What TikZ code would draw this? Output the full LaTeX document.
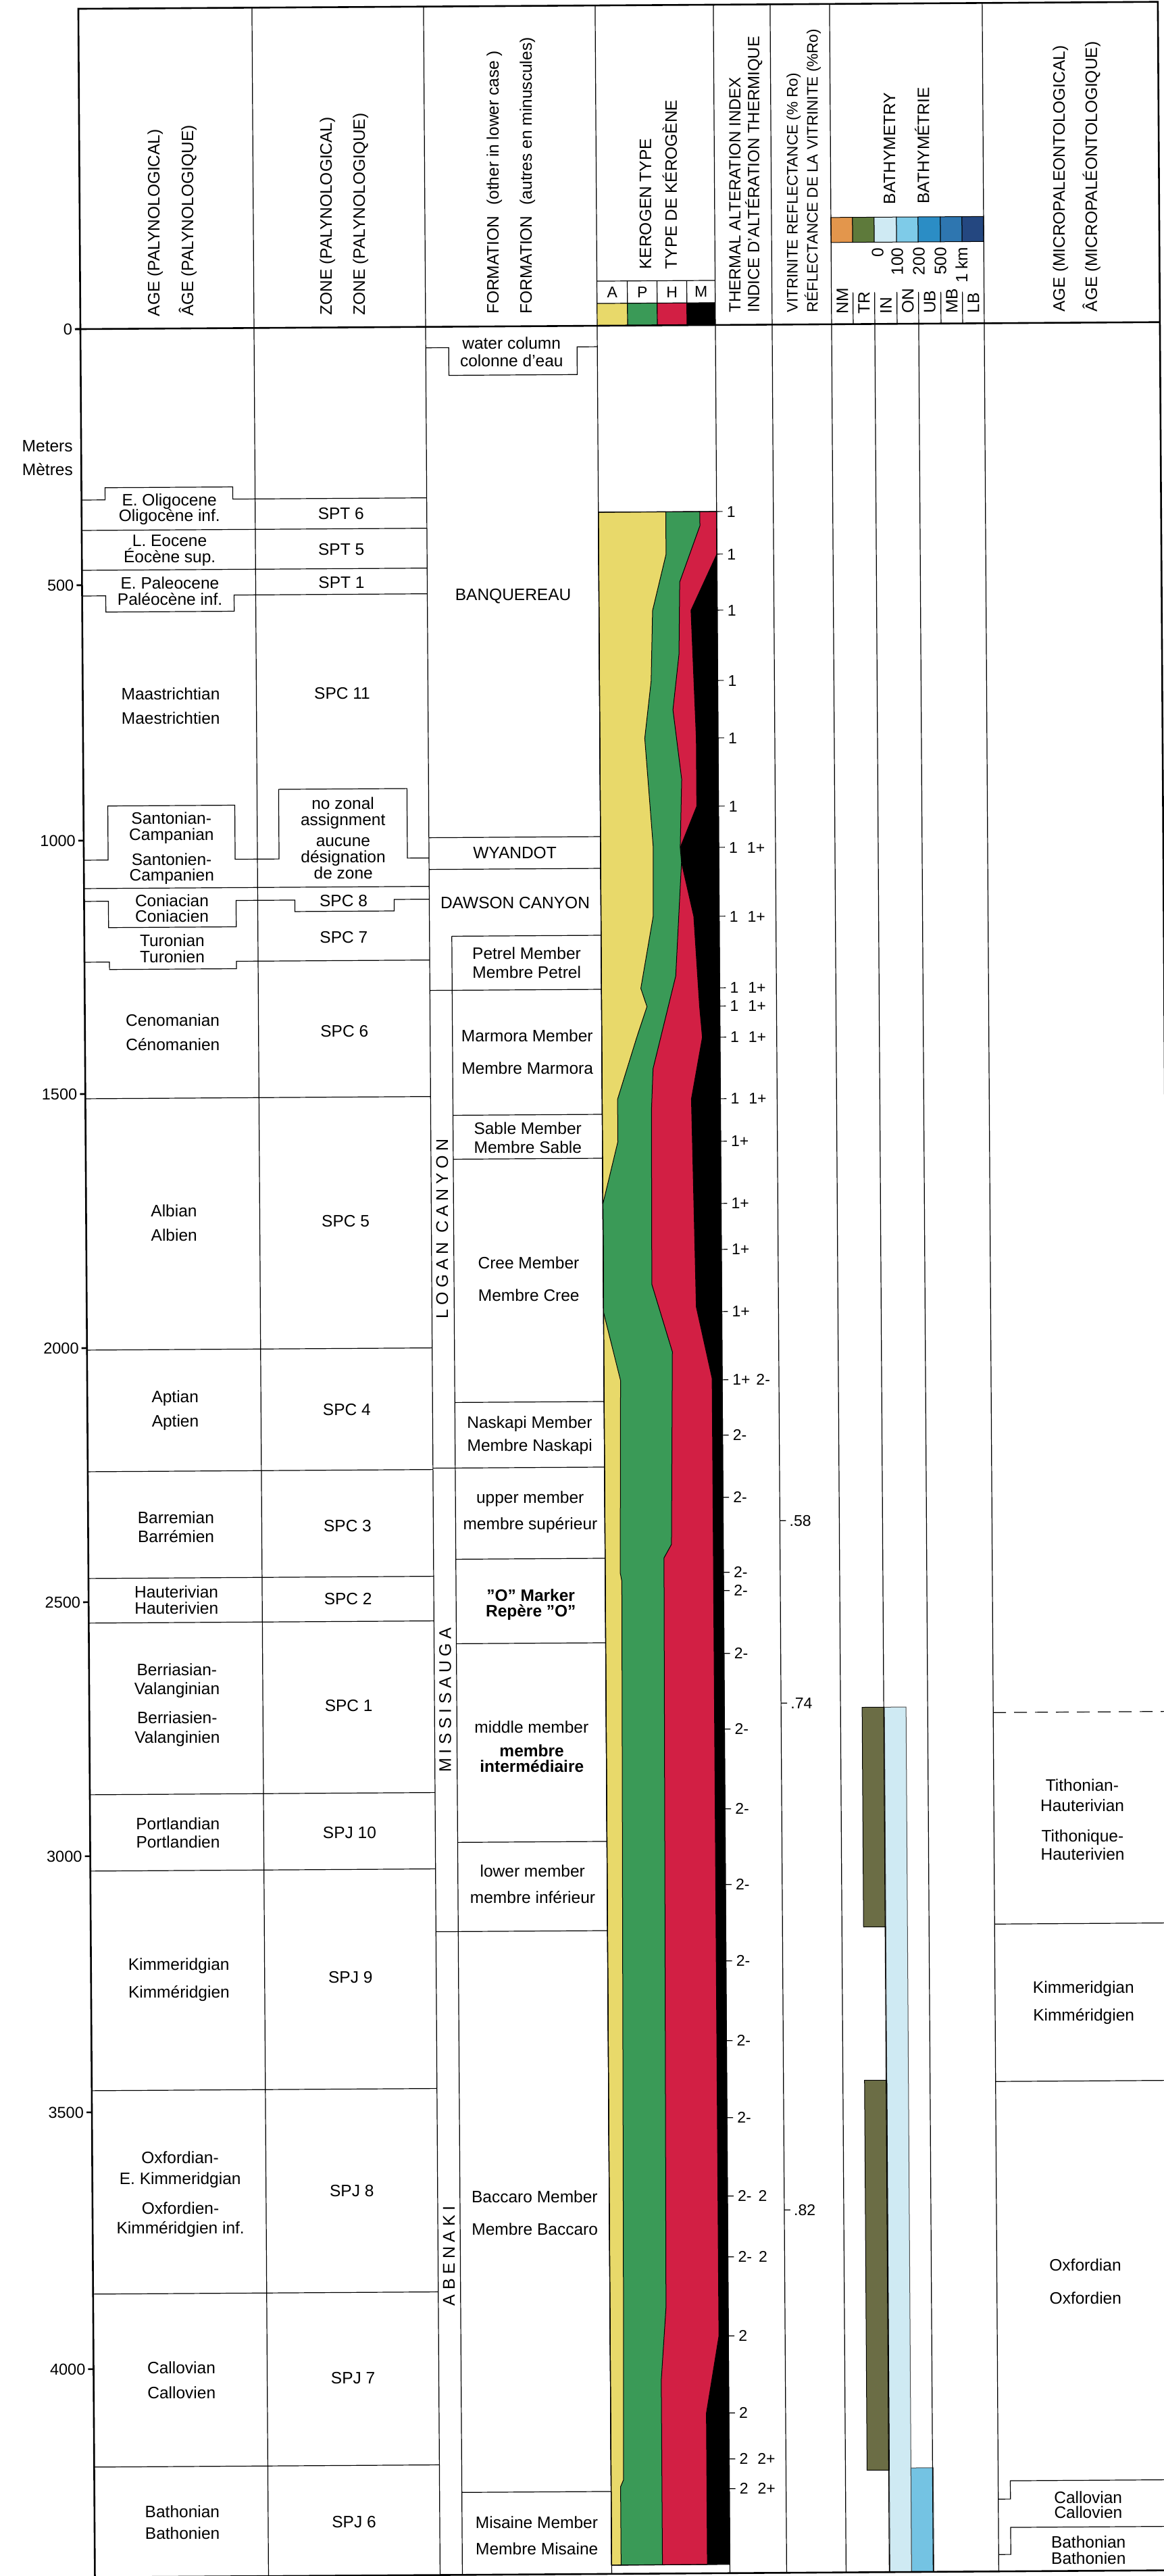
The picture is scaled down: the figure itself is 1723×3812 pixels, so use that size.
\documentclass[tikz,border=0pt]{standalone}
\usepackage{fontspec}
\setmainfont{Liberation Sans}
\definecolor{kA}{HTML}{E8D96A}
\definecolor{kP}{HTML}{3A9A57}
\definecolor{kH}{HTML}{D21F44}
\definecolor{bNM}{HTML}{E3964C}
\definecolor{bTR}{HTML}{5E7A3B}
\definecolor{bIN}{HTML}{CFEAF3}
\definecolor{bON}{HTML}{7ECBE8}
\definecolor{bUB}{HTML}{2B8DC5}
\definecolor{bMB}{HTML}{2E76B0}
\definecolor{bLB}{HTML}{244780}
\definecolor{barOl}{HTML}{6B6D45}
\definecolor{barON}{HTML}{74C3E3}
\newcounter{tn}
\newcommand\tx[4][]{\stepcounter{tn}\node[lbl,#1] (t\arabic{tn}) at (#2,{#3+8.8}) {#4};}
\newcommand\hd[4][]{\stepcounter{tn}\node[hdr,#1] (t\arabic{tn}) at (#2,#3) {#4};}
\newcommand\tai[2]{\draw[ln] (1059,#1) -- (1068,#1);\stepcounter{tn}\node[taif] (t\arabic{tn}) at (1074,{#1+8.2}) {#2};}
\newcommand\vit[2]{\draw[ln] (1143,#1) -- (1152,#1);\stepcounter{tn}\node[taif] (t\arabic{tn}) at (1157,{#1+8.2}) {#2};}
\newcommand\dep[2]{\draw[frm] (111,#1) -- (119,#1);\stepcounter{tn}\node[depf] (t\arabic{tn}) at (107,{#1+8.4}) {#2};}
\begin{document}
\begin{tikzpicture}[x=1pt,y=-1pt,
  ln/.style={line width=1.2pt},
  frm/.style={line width=2.6pt},
  lbl/.style={font=\fontsize{24.5}{29}\selectfont, anchor=base, inner sep=0pt},
  hdr/.style={font=\fontsize{24.5}{29}\selectfont, anchor=west, rotate=90, inner sep=0pt},
  taif/.style={font=\fontsize{23}{27}\selectfont, anchor=base west, inner sep=0pt},
  depf/.style={font=\fontsize{23.5}{27}\selectfont, anchor=base east, inner sep=0pt},
  grp/.style={font=\fontsize{25}{29}\selectfont\addfontfeature{LetterSpace=26}, rotate=90, inner sep=0pt},
  kbox/.style={fill=#1, draw=black, line width=1pt},
  ]
\useasboundingbox (0,0) rectangle (1723,3812);
\fill[white] (0,0) rectangle (1723,3812);
\begin{scope}[rotate around={0.37:(119,487)}]

% ---------- kerogen plot ----------
\begin{scope}[shift={(884,0)},x=175pt]
\fill[black] (0,763) rectangle (1,3801);
\filldraw[kbox=kH] (0,763) -- (1,763) -- (1,826) -- (.778,909) -- (.816,1098) -- (.816,1199) -- (.674,1260) -- (.684,1282) -- (.785,1362) -- (.829,1495) -- (.851,1541) -- (.755,1632) -- (.785,1940) -- (.915,2046) -- (.92,3463) -- (.81,3577) -- (.81,3801) -- (0,3801) -- cycle;
\filldraw[kbox=kP] (0,763) -- (.858,763) -- (.858,784) -- (.684,867) -- (.674,974) -- (.620,1056) -- (.690,1159) -- (.674,1260) -- (.684,1282) -- (.676,1306) -- (.629,1450) -- (.432,1587) -- (.416,1650) -- (.410,1906) -- (.580,2006) -- (.562,2291) -- (.498,2311) -- (.474,3420) -- (.430,3528) -- (.430,3801) -- (0,3801) -- cycle;
\filldraw[kbox=kA] (0,763) -- (.570,763) -- (.570,826) -- (.453,909) -- (.437,1013) -- (.380,1098) -- (.446,1260) -- (.441,1362) -- (.333,1468) -- (.384,1495) -- (.295,1541) -- (.130,1632) -- (.130,1695) -- (0,1787) -- (0,1947) -- (.140,2048) -- (.127,2333) -- (.14,2345) -- (.115,3380) -- (.105,3675) -- (.08,3685) -- (.08,3801) -- (0,3801) -- cycle;
\draw[line width=1.2pt] (0,763) rectangle (1,3801);
\end{scope}

% ---------- bathymetry bars ----------
\filldraw[fill=barOl, draw=black, line width=1pt] (1263,2534) rectangle (1296,2859);
\filldraw[fill=bIN, draw=black!70, line width=1pt] (1296,2534) rectangle (1328,3814);
\filldraw[fill=barOl, draw=black, line width=1pt] (1263,3086) rectangle (1296,3663);
\filldraw[fill=barON, draw=black!70, line width=1pt] (1328,3660) rectangle (1361,3814);

% ---------- header legends ----------
\fill[kA] (884,454) rectangle (929,487);
\fill[kP] (929,454) rectangle (973,487);
\fill[kH] (973,454) rectangle (1017,487);
\fill[black] (1017,454) rectangle (1059,487);
\draw[ln] (884,421) -- (1059,421);
\draw[ln] (884,454) -- (1059,454);
\foreach \xx in {929,973,1017} \draw[ln] (\xx,421) -- (\xx,487);
\foreach \c/\a/\b in {bNM/1231/1263, bTR/1263/1295, bIN/1295/1328, bON/1328/1360, bUB/1360/1393, bMB/1393/1425, bLB/1425/1457}
  \filldraw[fill=\c, draw=black, line width=1pt] (\a,329) rectangle (\b,366);
\foreach \xx in {1263,1295,1328,1360,1393,1425} \draw[ln] (\xx,440) -- (\xx,487);

% ---------- column lines ----------
\foreach \xx in {376,630,884,1059,1143,1231,1457} \draw[ln] (\xx,13) -- (\xx,3814);
\foreach \xx in {1295,1360} \draw[ln] (\xx,487) -- (\xx,3814);
\draw[ln] (663,1389) -- (663,3814);

% age / zone boundaries
\draw[ln] (119,740) -- (154,740) -- (154,722) -- (343,722) -- (343,740) -- (630,740);
\draw[ln] (119,785) -- (630,785);
\draw[ln] (119,844) -- (630,844);
\draw[ln] (119,882) -- (154,882) -- (154,906) -- (344,906) -- (344,882) -- (630,882);
\draw[ln] (119,1273) -- (155,1273) -- (155,1193) -- (343,1193) -- (343,1273) -- (408,1273) -- (408,1170) -- (598,1170) -- (598,1273) -- (630,1273);
\draw[ln] (119,1315) -- (630,1315);
\draw[ln] (119,1334) -- (155,1334) -- (155,1373) -- (344,1373) -- (344,1334) -- (431,1334) -- (431,1351) -- (578,1351) -- (578,1334) -- (630,1334);
\draw[ln] (119,1424) -- (156,1424) -- (156,1435) -- (344,1435) -- (344,1424) -- (630,1424);
\foreach \yy in {1626,1998,2178,2336,2402,2656,2769,3094,3395,3651} \draw[ln] (119,\yy) -- (630,\yy);

% formation boundaries
\draw[ln] (630,518) -- (664,518) -- (664,559) -- (854,559) -- (854,518) -- (884,518);
\foreach \yy in {1243,1290,1469,2176,2862} \draw[ln] (630,\yy) -- (884,\yy);
\foreach \yy in {1389,1654,1719,2079,2311,2436,2730,3692} \draw[ln] (663,\yy) -- (884,\yy);

% micropaleontological age boundaries
\draw[ln, dash pattern=on 19pt off 12pt] (1457,2543) -- (1717,2543);
\draw[ln] (1457,2856) -- (1717,2856);
\draw[ln] (1457,3089) -- (1717,3089);
\draw[ln] (1457,3707) -- (1475,3707) -- (1475,3680) -- (1717,3680);
\draw[ln] (1457,3789) -- (1475,3789) -- (1475,3749) -- (1717,3749);

% frame
\draw[frm] (119,13) rectangle (1717,3814);
\draw[frm] (111,487) -- (1717,487);

% ---------- header texts ----------
\hd{230}{469}{AGE (PALYNOLOGICAL)}
\hd{278}{469}{ÂGE (PALYNOLOGIQUE)}
\hd{485}{469}{ZONE (PALYNOLOGICAL)}
\hd{534}{469}{ZONE (PALYNOLOGIQUE)}
\hd{732}{469}{FORMATION\hspace{16pt}(other in lower case )}
\hd{781}{469}{FORMATION\hspace{16pt}(autres en minuscules)}
\hd{956}{404}{KEROGEN TYPE}
\hd{992}{404}{TYPE DE KÉROGÈNE}
\hd[font=\fontsize{24}{28}\selectfont]{1088}{469}{THERMAL ALTERATION INDEX}
\hd[font=\fontsize{24}{28}\selectfont]{1116}{469}{INDICE D'ALTÉRATION THERMIQUE}
\hd[font=\fontsize{22.5}{27}\selectfont]{1175}{470}{VITRINITE REFLECTANCE (\% Ro)}
\hd[font=\fontsize{22.5}{27}\selectfont]{1203}{470}{RÉFLECTANCE DE LA VITRINITE (\%Ro)}
\hd{1318}{310}{BATHYMETRY}
\hd{1366}{310}{BATHYMÉTRIE}
\hd{1570}{471}{AGE (MICROPALEONTOLOGICAL)}
\hd{1616}{471}{ÂGE (MICROPALÉONTOLOGIQUE)}
\hd[anchor=east]{1300}{374}{0}
\hd[anchor=east]{1329}{374}{100}
\hd[anchor=east]{1361}{374}{200}
\hd[anchor=east]{1393}{374}{500}
\hd[anchor=east]{1424}{374}{1 km}
\hd{1247}{472}{NM}
\hd{1279}{472}{TR}
\hd{1311.5}{472}{IN}
\hd{1344}{472}{ON}
\hd{1376.5}{472}{UB}
\hd{1409}{472}{MB}
\hd{1441}{472}{LB}
\tx[font=\fontsize{23}{27}\selectfont]{906.5}{437}{A}
\tx[font=\fontsize{23}{27}\selectfont]{951}{437}{P}
\tx[font=\fontsize{23}{27}\selectfont]{995}{437}{H}
\tx[font=\fontsize{23}{27}\selectfont]{1038}{437}{M}

% ---------- depth scale ----------
\tx{69}{659}{Meters}
\tx{69}{694}{Mètres}
\dep{487}{0}
\dep{866}{500}
\dep{1244}{1000}
\dep{1619}{1500}
\dep{1995}{2000}
\dep{2371}{2500}
\dep{2747}{3000}
\dep{3126}{3500}
\dep{3506}{4000}

% ---------- age (palynological) ----------
\tx{249}{741}{E. Oligocene}
\tx{249}{764}{Oligocène inf.}
\tx{249}{801}{L. Eocene}
\tx{249}{825}{Éocène sup.}
\tx{249}{864}{E. Paleocene}
\tx{249}{888}{Paléocène inf.}
\tx{249}{1028}{Maastrichtian}
\tx{249}{1064}{Maestrichtien}
\tx{249}{1212}{Santonian-}
\tx{249}{1236}{Campanian}
\tx{249}{1273}{Santonien-}
\tx{249}{1296}{Campanien}
\tx{249}{1334}{Coniacian}
\tx{249}{1357}{Coniacien}
\tx{249}{1393}{Turonian}
\tx{249}{1417}{Turonien}
\tx{249}{1511}{Cenomanian}
\tx{249}{1547}{Cénomanien}
\tx{249}{1793}{Albian}
\tx{249}{1829}{Albien}
\tx{249}{2068}{Aptian}
\tx{249}{2104}{Aptien}
\tx{249}{2247}{Barremian}
\tx{249}{2275}{Barrémien}
\tx{249}{2357}{Hauterivian}
\tx{249}{2381}{Hauterivien}
\tx{249}{2472}{Berriasian-}
\tx{249}{2500}{Valanginian}
\tx{249}{2543}{Berriasien-}
\tx{249}{2572}{Valanginien}
\tx{249}{2700}{Portlandian}
\tx{249}{2727}{Portlandien}
\tx{249}{2908}{Kimmeridgian}
\tx{249}{2949}{Kimméridgien}
\tx{249}{3194}{Oxfordian-}
\tx{249}{3225}{E. Kimmeridgian}
\tx{249}{3269}{Oxfordien-}
\tx{249}{3298}{Kimméridgien inf.}
\tx{249}{3505}{Callovian}
\tx{249}{3542}{Callovien}
\tx{249}{3718}{Bathonian}
\tx{249}{3750}{Bathonien}

% ---------- zone ----------
\tx{503}{762.5}{SPT 6}
\tx{503}{815.5}{SPT 5}
\tx{503}{864.5}{SPT 1}
\tx{503}{1028.5}{SPC 11}
\tx{503}{1191.5}{no zonal}
\tx{503}{1215.5}{assignment}
\tx{503}{1246.5}{aucune}
\tx{503}{1270.5}{désignation}
\tx{503}{1294.5}{de zone}
\tx{503}{1335.5}{SPC 8}
\tx{503}{1389.5}{SPC 7}
\tx{503}{1528.5}{SPC 6}
\tx{503}{1809.5}{SPC 5}
\tx{503}{2088.5}{SPC 4}
\tx{503}{2260.5}{SPC 3}
\tx{503}{2368.5}{SPC 2}
\tx{503}{2526.5}{SPC 1}
\tx{503}{2714.5}{SPJ 10}
\tx{503}{2928.5}{SPJ 9}
\tx{503}{3244.5}{SPJ 8}
\tx{503}{3521.5}{SPJ 7}
\tx{503}{3734.5}{SPJ 6}

% ---------- formation ----------
\tx{757}{512}{water column}
\tx{757}{538}{colonne d'eau}
\tx{757}{884}{BANQUEREAU}
\tx{757}{1266}{WYANDOT}
\tx{757}{1340}{DAWSON CANYON}
\tx{773.5}{1415}{Petrel Member}
\tx{773.5}{1443}{Membre Petrel}
\tx{773.5}{1537}{Marmora Member}
\tx{773.5}{1585}{Membre Marmora}
\tx{773.5}{1674}{Sable Member}
\tx{773.5}{1702}{Membre Sable}
\tx{773.5}{1873}{Cree Member}
\tx{773.5}{1921}{Membre Cree}
\tx{773.5}{2109}{Naskapi Member}
\tx{773.5}{2143}{Membre Naskapi}
\tx{773.5}{2220}{upper member}
\tx{773.5}{2259}{membre supérieur}
\tx[font=\fontsize{24.5}{29}\selectfont\bfseries]{773.5}{2365}{"O" Marker}
\tx[font=\fontsize{24.5}{29}\selectfont\bfseries]{773.5}{2388}{Repère "O"}
\tx{773.5}{2560}{middle member}
\tx[font=\fontsize{24.5}{29}\selectfont\bfseries]{773.5}{2595}{membre}
\tx[font=\fontsize{24.5}{29}\selectfont\bfseries]{773.5}{2618}{intermédiaire}
\tx{773.5}{2773}{lower member}
\tx{773.5}{2812}{membre inférieur}
\tx{773.5}{3255}{Baccaro Member}
\tx{773.5}{3303}{Membre Baccaro}
\tx{773.5}{3737}{Misaine Member}
\tx{773.5}{3776}{Membre Misaine}
\node[grp] (g1) at (646,1822) {LOGAN CANYON};
\node[grp] (g2) at (646,2519) {MISSISAUGA};
\node[grp] (g3) at (646,3342) {ABENAKI};

% ---------- thermal alteration index ----------
\tai{763}{1}
\tai{826}{1}
\tai{909}{1}
\tai{1013}{1}
\tai{1098}{1}
\tai{1199}{1}
\tai{1260}{1\hspace{14pt}1+}
\tai{1362}{1\hspace{14pt}1+}
\tai{1468}{1\hspace{14pt}1+}
\tai{1495}{1\hspace{14pt}1+}
\tai{1541}{1\hspace{14pt}1+}
\tai{1632}{1\hspace{14pt}1+}
\tai{1695}{1+}
\tai{1787}{1+}
\tai{1855}{1+}
\tai{1947}{1+}
\tai{2048}{1+\hspace{9pt}2-}
\tai{2130}{2-}
\tai{2222}{2-}
\tai{2333}{2-}
\tai{2360}{2-}
\tai{2453}{2-}
\tai{2565}{2-}
\tai{2683}{2-}
\tai{2795}{2-}
\tai{2908}{2-}
\tai{3026}{2-}
\tai{3140}{2-}
\tai{3256}{2-\hspace{10pt}2}
\tai{3346}{2-\hspace{10pt}2}
\tai{3463}{2}
\tai{3577}{2}
\tai{3645}{2\hspace{14pt}2+}
\tai{3689}{2\hspace{14pt}2+}

% ---------- vitrinite ----------
\vit{2257}{.58}
\vit{2527}{.74}
\vit{3277}{.82}

% ---------- micropaleontological age ----------
\tx{1588}{2651}{Tithonian-}
\tx{1588}{2681}{Hauterivian}
\tx{1588}{2726}{Tithonique-}
\tx{1588}{2753}{Hauterivien}
\tx{1588}{2950}{Kimmeridgian}
\tx{1588}{2991}{Kimméridgien}
\tx{1588}{3361}{Oxfordian}
\tx{1588}{3410}{Oxfordien}
\tx{1590}{3705}{Callovian}
\tx{1590}{3727}{Callovien}
\tx{1590}{3771}{Bathonian}
\tx{1590}{3795}{Bathonien}

\end{scope}
\end{tikzpicture}
\end{document}
